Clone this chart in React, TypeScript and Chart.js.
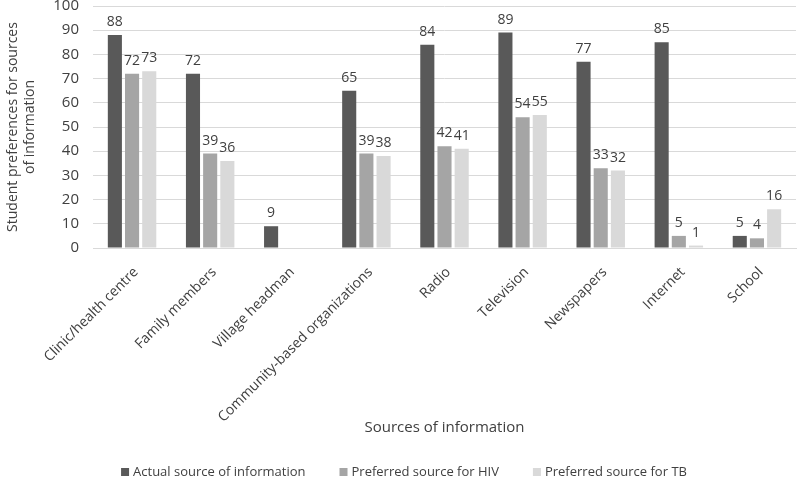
import React, { useEffect, useRef } from "react";
import { Chart, registerables } from "chart.js";

Chart.register(...registerables);

const categories = [
  "Clinic/health centre",
  "Family members",
  "Village headman",
  "Community-based organizations",
  "Radio",
  "Television",
  "Newspapers",
  "Internet",
  "School",
];
const actualSource = [88, 72, 9, 65, 84, 89, 77, 85, 5];
const preferredHIV = [72, 39, null, 39, 42, 54, 33, 5, 4];
const preferredTB = [73, 36, null, 38, 41, 55, 32, 1, 16];
const seriesNames = [
  "Actual source of information",
  "Preferred source for HIV",
  "Preferred source for TB",
];
const seriesColors = ["#595959", "#a5a5a5", "#d9d9d9"];

const FONT = "'Open Sans', 'Noto Sans', sans-serif";

const valueLabels = {
  id: "valueLabels",
  afterDatasetsDraw(chart: any) {
    const ctx = chart.ctx;
    ctx.save();
    ctx.font = `14px ${FONT}`;
    ctx.fillStyle = "#404040";
    ctx.textAlign = "center";
    ctx.textBaseline = "bottom";
    chart.data.datasets.forEach((ds: any, i: number) => {
      const meta = chart.getDatasetMeta(i);
      meta.data.forEach((bar: any, j: number) => {
        const v = ds.data[j];
        if (v === null || v === undefined) return;
        ctx.fillText(String(v), bar.x, bar.y - 6);
      });
    });
    ctx.restore();
  },
};

const customLegend = {
  id: "customLegend",
  afterDraw(chart: any) {
    const ctx = chart.ctx;
    ctx.save();
    ctx.font = `13px ${FONT}`;
    ctx.textBaseline = "middle";
    ctx.textAlign = "left";
    const box = 8;
    const gapBoxText = 4;
    const gapItems = 34;
    const items = chart.data.datasets.map((ds: any) => ({
      label: ds.label,
      color: ds.backgroundColor,
      w: ctx.measureText(ds.label).width,
    }));
    const total =
      items.reduce((a: number, it: any) => a + box + gapBoxText + it.w, 0) +
      gapItems * (items.length - 1);
    let x = chart.width / 2 + 4 - total / 2;
    const y = 472;
    items.forEach((it: any) => {
      ctx.fillStyle = it.color;
      ctx.fillRect(x, y - box / 2, box, box);
      ctx.fillStyle = "#404040";
      ctx.fillText(it.label, x + box + gapBoxText, y);
      x += box + gapBoxText + it.w + gapItems;
    });
    ctx.restore();
  },
};

export default function App() {
  const ref = useRef<HTMLCanvasElement>(null);
  useEffect(() => {
    document.body.style.margin = "0";
    const chart = new Chart(ref.current!, {
      type: "bar",
      data: {
        labels: categories,
        datasets: [actualSource, preferredHIV, preferredTB].map((d, i) => ({
          label: seriesNames[i],
          data: d,
          backgroundColor: seriesColors[i],
          categoryPercentage: 0.66,
          barPercentage: 0.82,
        })),
      },
      options: {
        animation: false,
        responsive: false,
        layout: { padding: { left: 0, right: 4, top: 6, bottom: 0 } },
        plugins: {
          legend: { display: false },
          tooltip: { enabled: false },
        },
        scales: {
          x: {
            grid: { display: false },
            border: { color: "#d9d9d9" },
            afterFit: (s: any) => {
              s.height = 235;
              s.paddingLeft = 0;
              s.paddingRight = 0;
            },
            ticks: {
              color: "#404040",
              font: { family: FONT, size: 14 },
              maxRotation: 45,
              minRotation: 45,
              autoSkip: false,
              padding: 8,
              labelOffset: 4,
            },
            title: {
              display: true,
              text: "Sources of information",
              color: "#404040",
              font: { family: FONT, size: 15 },
              padding: { top: 12, bottom: 46 },
            },
          },
          y: {
            min: 0,
            max: 100,
            afterFit: (s: any) => {
              s.width = 93;
              s.paddingTop = 0;
              s.paddingBottom = 0;
            },
            ticks: {
              stepSize: 10,
              autoSkip: false,
              color: "#404040",
              font: { family: FONT, size: 15 },
              padding: 14,
            },
            grid: { color: "#d9d9d9", drawTicks: false },
            border: { display: false },
            title: {
              display: true,
              text: ["Student preferences for sources", "of information"],
              color: "#404040",
              font: { family: FONT, size: 14 },
              padding: { top: 5, bottom: 2 },
            },
          },
        },
      },
      plugins: [valueLabels, customLegend],
    });
    return () => chart.destroy();
  }, []);
  return <canvas ref={ref} width={800} height={483} style={{ display: "block" }} />;
}
